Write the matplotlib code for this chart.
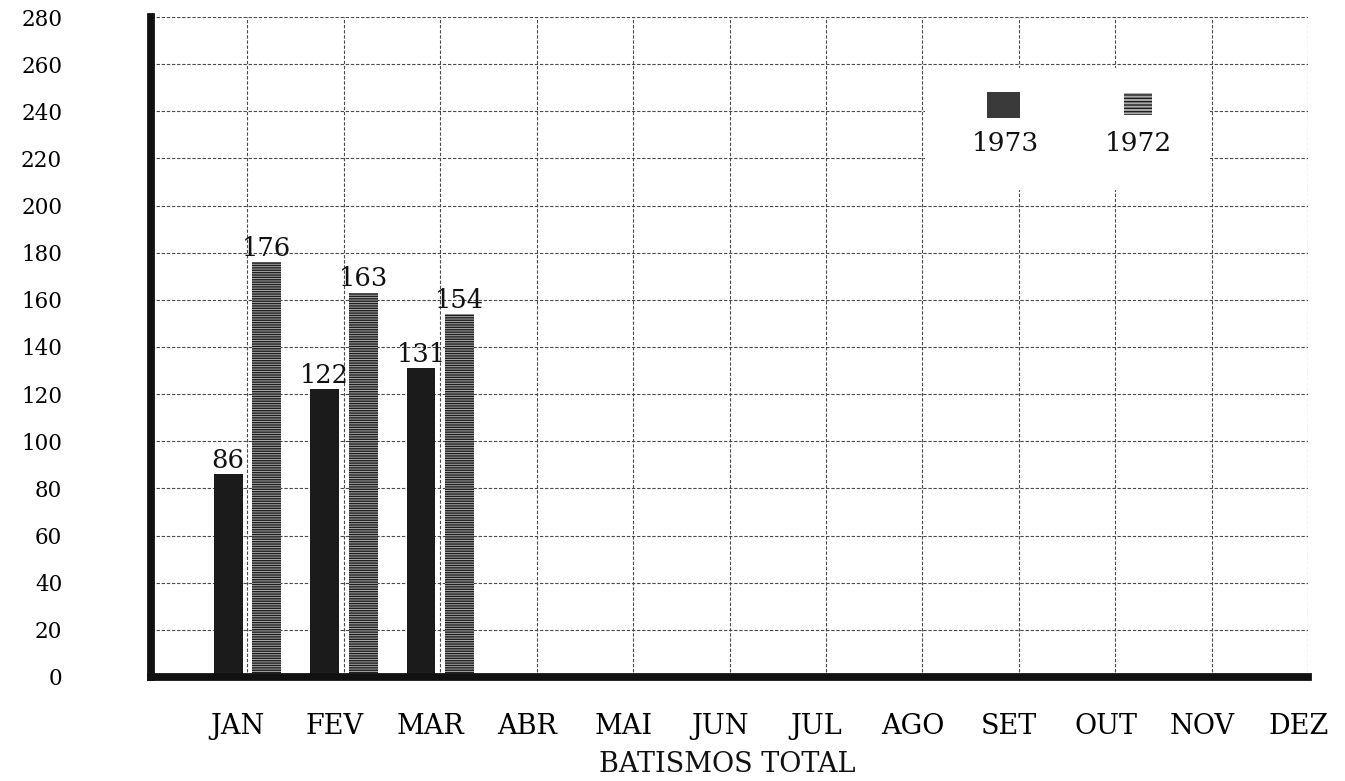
import matplotlib
matplotlib.use("Agg")
import matplotlib.pyplot as plt
from matplotlib.patches import Rectangle
import numpy as np

# ---- data ----
months = ['JAN', 'FEV', 'MAR', 'ABR', 'MAI', 'JUN', 'JUL', 'AGO', 'SET', 'OUT', 'NOV', 'DEZ']
years = ['1973', '1972']
values_1973 = [86, 122, 131]
values_1972 = [176, 163, 154]
y_ticks = [0, 20, 40, 60, 80, 100, 120, 140, 160, 180, 200, 220, 240, 260, 280]

plt.rcParams['hatch.color'] = '#1e1e1e'
plt.rcParams['hatch.linewidth'] = 1.0

fig = plt.figure(figsize=(13.45, 7.81), dpi=100)
ax = fig.add_axes([0.1123, 0.1332, 0.8602, 0.845])
ax.set_axisbelow(True)

serif = 'DejaVu Serif'
dark = '#1b1b1b'
grid_c = '#4a4a4a'

# grid
ax.set_xlim(0, 12)
ax.set_ylim(0, 280)
ax.set_xticks(np.arange(1, 13), minor=True)
ax.set_yticks(y_ticks)
ax.grid(True, which='minor', axis='x', color=grid_c, linestyle=(0, (3, 1.6)), linewidth=0.8)
ax.grid(True, which='major', axis='y', color=grid_c, linestyle=(0, (3, 1.6)), linewidth=0.8)
ax.tick_params(axis='x', which='both', length=0)
ax.tick_params(axis='y', length=0, pad=64, labelsize=15.5)
for lab in ax.get_yticklabels():
    lab.set_fontfamily(serif)

# month labels
ax.set_xticks(np.arange(len(months)) + 0.9)
ax.set_xticklabels(months, fontsize=19.5, fontfamily=serif)
ax.tick_params(axis='x', pad=26)

# spines
for s in ['top', 'right']:
    ax.spines[s].set_visible(False)
for s in ['left', 'bottom']:
    ax.spines[s].set_linewidth(5.6)
    ax.spines[s].set_color('#111111')
    ax.spines[s].set_capstyle('projecting')
    ax.spines[s].set_zorder(5)

# bars
w = 0.3
idx73 = np.arange(len(values_1973)) + 1.0
idx72 = np.arange(len(values_1972)) + 1.0
b73 = ax.bar(idx73 - 0.2, values_1973, width=w, color=dark, linewidth=0, zorder=3)
b72 = ax.bar(idx72 + 0.2, values_1972, width=w, color='#a9a9a9', hatch='-------',
             edgecolor='#1e1e1e', linewidth=0, zorder=3)

for bars, vals in ((b73, values_1973), (b72, values_1972)):
    for rect, v in zip(bars, vals):
        ax.annotate(str(v), (rect.get_x() + rect.get_width() / 2, v),
                    xytext=(0, 1), textcoords='offset points',
                    ha='center', va='bottom', fontsize=18.5, fontfamily=serif,
                    color='#111111', zorder=4)

# legend (patch above label), with white background hiding the grid
ax.add_patch(Rectangle((0.669, 0.738), 0.246, 0.185, transform=ax.transAxes,
                       facecolor='white', edgecolor='none', zorder=1))
ax.add_patch(Rectangle((0.7226, 0.847), 0.0285, 0.039, transform=ax.transAxes,
                       facecolor='#3a3a3a', edgecolor='none', zorder=2))
ax.add_patch(Rectangle((0.841, 0.852), 0.024, 0.033, transform=ax.transAxes,
                       facecolor='#a9a9a9', hatch='-----', edgecolor='#1e1e1e',
                       linewidth=0, zorder=2))
ax.text(0.738, 0.8076, years[0], transform=ax.transAxes, ha='center', va='center',
        fontsize=19, fontfamily=serif, color='#111111', zorder=2)
ax.text(0.853, 0.8076, years[1], transform=ax.transAxes, ha='center', va='center',
        fontsize=19, fontfamily=serif, color='#111111', zorder=2)

fig.text(0.5405, 0.0205, 'BATISMOS TOTAL', ha='center', va='center',
         fontsize=19.5, fontfamily=serif, color='#111111')

fig.savefig('out.png', dpi=100, facecolor='white')
